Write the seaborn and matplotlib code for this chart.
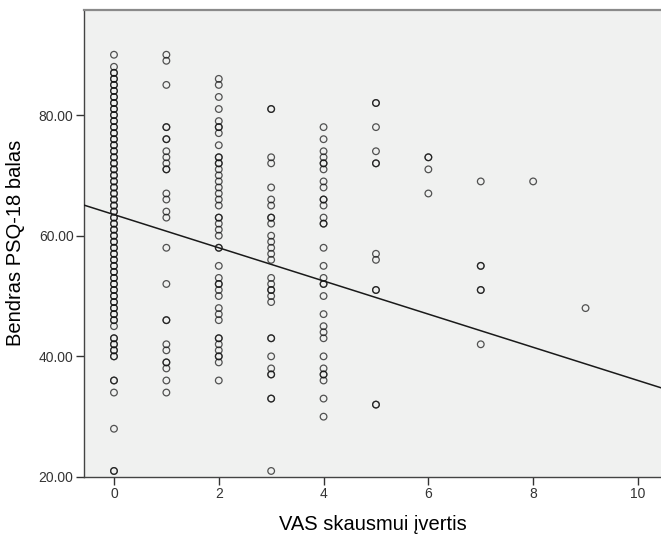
import matplotlib
matplotlib.use("Agg")
import matplotlib.pyplot as plt
import numpy as np
import pandas as pd
import seaborn as sns

# PSQ-18 total scores observed at each VAS pain level
psq_vas0 = [90, 88, 87, 87, 86, 86, 85, 85, 84, 84, 83, 83, 82, 82, 81, 81, 80, 80,
            79, 79, 78, 78, 77, 77, 76, 76, 75, 75, 74, 74, 73, 73, 72, 72, 71, 71,
            70, 70, 69, 69, 68, 68, 67, 67, 66, 66, 65, 65, 64, 64, 63, 63, 62, 62,
            61, 61, 60, 60, 59, 59, 58, 58, 57, 57, 56, 56, 55, 55, 54, 54, 53, 53,
            52, 52, 51, 51, 50, 50, 49, 49, 48, 48, 47, 47, 46, 46, 45, 43, 43, 42,
            42, 41, 41, 40, 40, 36, 36, 34, 28, 21, 21]
psq_vas1 = [90, 89, 85, 78, 78, 76, 76, 74, 73, 72, 71, 71, 67, 66, 64, 63, 58, 52,
            46, 46, 42, 41, 39, 39, 38, 36, 34]
psq_vas2 = [86, 85, 83, 81, 79, 78, 78, 77, 75, 73, 73, 72, 72, 71, 70, 69, 68, 67,
            66, 65, 63, 63, 62, 61, 60, 58, 58, 55, 53, 52, 52, 51, 50, 48, 47, 46,
            43, 43, 42, 41, 40, 40, 39, 36]
psq_vas3 = [81, 81, 73, 72, 68, 66, 65, 63, 63, 62, 60, 59, 58, 57, 56, 53, 52, 51,
            51, 50, 49, 43, 43, 40, 38, 37, 37, 33, 33, 21]
psq_vas4 = [78, 76, 74, 73, 72, 72, 71, 69, 68, 66, 66, 65, 63, 62, 62, 58, 55, 53,
            52, 52, 50, 47, 45, 44, 43, 40, 38, 37, 37, 36, 33, 30]
psq_vas5 = [82, 82, 78, 74, 72, 72, 57, 56, 51, 51, 32, 32]
psq_vas6 = [73, 73, 71, 67]
psq_vas7 = [69, 55, 55, 51, 51, 42]
psq_vas8 = [69]
psq_vas9 = [48]

vas_levels = [0, 1, 2, 3, 4, 5, 6, 7, 8, 9]
psq_by_level = [psq_vas0, psq_vas1, psq_vas2, psq_vas3, psq_vas4,
                psq_vas5, psq_vas6, psq_vas7, psq_vas8, psq_vas9]

# Linear fit line (total score on VAS)
fit_intercept = 63.5
fit_slope = -2.75

x_ticks = [0, 2, 4, 6, 8, 10]
y_ticks = [20, 40, 60, 80]
x_label = "VAS skausmui įvertis"
y_label = "Bendras PSQ-18 balas"

df = pd.DataFrame({
    "vas": [lvl for lvl, vals in zip(vas_levels, psq_by_level) for _ in vals],
    "psq": [v for vals in psq_by_level for v in vals],
})

sns.set_style("white")
plt.rcParams["font.family"] = ["Liberation Sans", "DejaVu Sans"]

W, H = 661, 534
fig = plt.figure(figsize=(W / 100, H / 100), dpi=100)
fig.patch.set_facecolor("white")
ax_left, ax_right, ax_top, ax_bottom = 84, 661, 9.5, 477
ax = fig.add_axes([ax_left / W, (H - ax_bottom) / H,
                   (ax_right - ax_left) / W, (ax_bottom - ax_top) / H])
ax.set_facecolor("#f0f1f0")

xmin, xmax = -0.572, 10.44
ymin, ymax = 20, 97.5

sns.scatterplot(data=df, x="vas", y="psq", ax=ax, marker="o",
                facecolor="none", edgecolor="#141414", linewidth=0.9,
                s=23, alpha=0.72, zorder=3)

line_df = pd.DataFrame({"vas": [xmin, xmax]})
line_df["psq"] = fit_intercept + fit_slope * line_df["vas"]
sns.lineplot(data=line_df, x="vas", y="psq", ax=ax, color="#1a1a1a",
             linewidth=1.1, zorder=4)

ax.set_xlim(xmin, xmax)
ax.set_ylim(ymin, ymax)
ax.set_xticks(x_ticks)
ax.set_xticklabels([str(t) for t in x_ticks])
ax.set_yticks(y_ticks)
ax.set_yticklabels([f"{t:.2f}" for t in y_ticks])

ax.tick_params(axis="both", direction="out", length=6, width=1.0,
               color="#333333", labelsize=10, labelcolor="#333333", pad=1.5)
ax.tick_params(axis="x", bottom=True)
ax.tick_params(axis="y", left=True)

for side in ["left", "bottom"]:
    ax.spines[side].set_color("#444444")
    ax.spines[side].set_linewidth(1.0)
ax.spines["top"].set_color("#8a8a8a")
ax.spines["top"].set_linewidth(1.6)
ax.spines["right"].set_visible(False)

ax.set_xlabel(x_label, fontsize=14.5, color="black", labelpad=10)
ax.set_ylabel(y_label, fontsize=14.5, color="black", labelpad=10)

fig.savefig("out.png", dpi=100, facecolor="white")
